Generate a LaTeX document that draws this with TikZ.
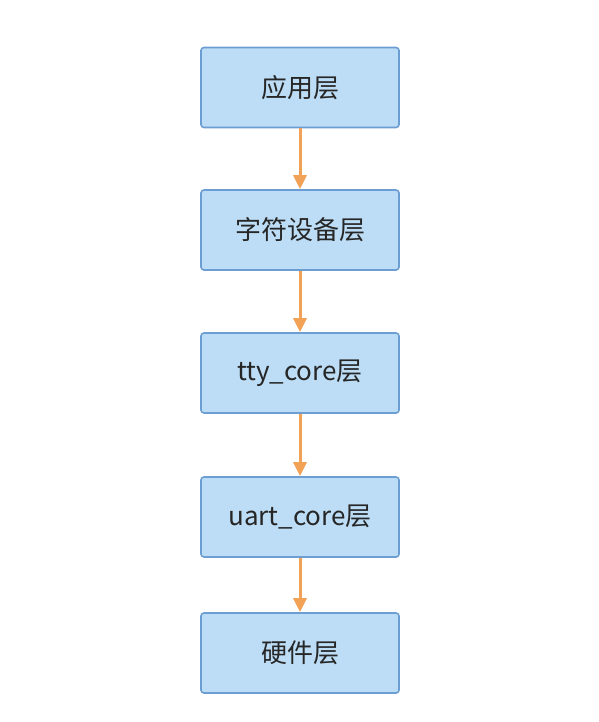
\documentclass[tikz,border=0pt]{standalone}
\usepackage{fontspec}
\setmainfont{Noto Sans CJK SC}
\usetikzlibrary{arrows.meta}
\definecolor{boxfill}{HTML}{BCDDF5}
\definecolor{boxdraw}{HTML}{6C9ED3}
\definecolor{arrcol}{HTML}{F2A257}
\tikzset{
  layer/.style={draw=boxdraw, fill=boxfill, line width=1.6pt, rounded corners=3pt,
    minimum width=198pt, minimum height=80pt, inner sep=0pt,
    font=\fontsize{26}{30}\selectfont, text=black!85},
  flow/.style={draw=arrcol, line width=3pt, -{Triangle[length=14pt,width=13pt]}}
}
\begin{document}
\begin{tikzpicture}[x=1pt,y=-1pt]
\useasboundingbox (0,0) rectangle (598,722);
\node[layer] (a) at (300,87.5) {应用层};
\node[layer] (b) at (300,230) {字符设备层};
\node[layer] (c) at (300,373) {tty\_core层};
\node[layer] (d) at (300,517) {uart\_core层};
\node[layer] (e) at (300,653) {硬件层};
\draw[flow] (a) -- (b);
\draw[flow] (b) -- (c);
\draw[flow] (c) -- (d);
\draw[flow] (d) -- (e);
\end{tikzpicture}
\end{document}
